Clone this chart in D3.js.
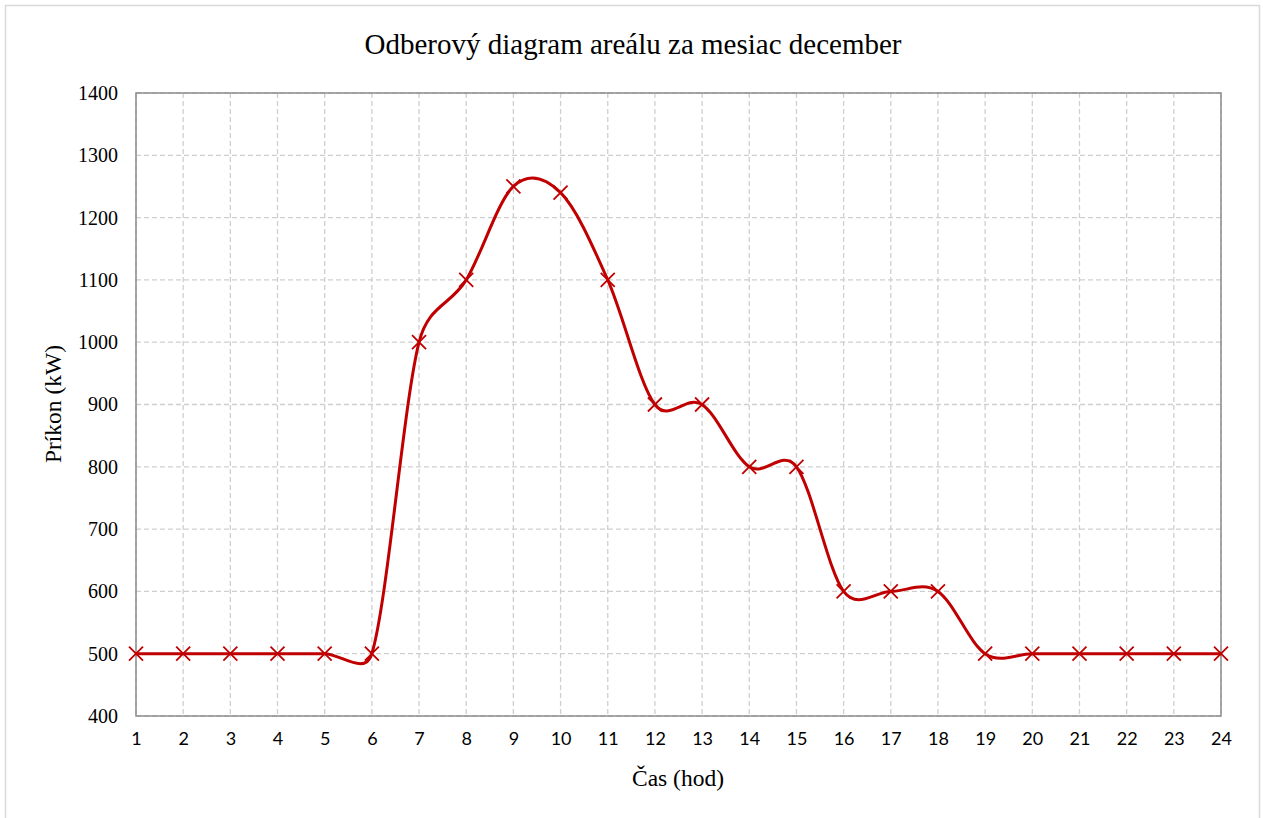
<!DOCTYPE html>
<html><head><meta charset="utf-8">
<script src="https://cdn.jsdelivr.net/npm/d3@7"></script>
<style>body{margin:0;background:#fff}</style>
</head><body>
<svg id="c" width="1263" height="818"></svg>
<script>
const hours = [1,2,3,4,5,6,7,8,9,10,11,12,13,14,15,16,17,18,19,20,21,22,23,24];
const power = [500,500,500,500,500,500,1000,1100,1250,1240,1100,900,900,800,800,600,600,600,500,500,500,500,500,500];
const yTicks = [400,500,600,700,800,900,1000,1100,1200,1300,1400];
const titleText = "Odberový diagram areálu za mesiac december";
const xTitle = "Čas (hod)";
const yTitle = "Príkon (kW)";

const svg = d3.select("#c");
svg.append("rect").attr("x",5.5).attr("y",5.5).attr("width",1254).attr("height",830)
  .attr("fill","#fff").attr("stroke","#d9d9d9").attr("stroke-width",1.5);

const L=136, R=1221, T=93, B=716;
const x = d3.scaleLinear().domain([1,24]).range([L,R]);
const y = d3.scaleLinear().domain([400,1400]).range([B,T]);

const grid = svg.append("g").attr("stroke","#cfcfcf").attr("stroke-width",1.3).attr("stroke-dasharray","5,3");
grid.selectAll(".gy").data(yTicks).join("line").attr("x1",L).attr("x2",R).attr("y1",d=>y(d)).attr("y2",d=>y(d));
grid.selectAll(".gx").data(hours).join("line").attr("y1",T).attr("y2",B).attr("x1",d=>x(d)).attr("x2",d=>x(d));

svg.append("rect").attr("x",L).attr("y",T).attr("width",R-L).attr("height",B-T)
  .attr("fill","none").attr("stroke","#8c8c8c").attr("stroke-width",1.5);

const yAxis = svg.append("g").attr("transform",`translate(${L},0)`)
  .call(d3.axisLeft(y).tickValues(yTicks).tickSize(0).tickPadding(18).tickFormat(d3.format("d")));
yAxis.select(".domain").remove();
yAxis.selectAll("text").attr("font-family","Liberation Serif, Times New Roman, serif").attr("font-size",20).attr("fill","#000");

const xAxis = svg.append("g").attr("transform",`translate(0,${B})`)
  .call(d3.axisBottom(x).tickValues(hours).tickSize(0).tickPadding(16).tickFormat(d3.format("d")));
xAxis.select(".domain").remove();
xAxis.selectAll("text").attr("font-family","Lato, Open Sans, sans-serif").attr("font-size",18).attr("fill","#000");

// Excel-style smoothed line: Bezier segments with control-point length limited to half the segment
const pts = power.map((d,i)=>[x(hours[i]), y(d)]);
const dist = (a,b)=>Math.hypot(a[0]-b[0],a[1]-b[1]);
const p = d3.path();
p.moveTo(pts[0][0],pts[0][1]);
for(let i=0;i<pts.length-1;i++){
  const p0=pts[Math.max(0,i-1)], p1=pts[i], p2=pts[i+1], p3=pts[Math.min(pts.length-1,i+2)];
  const d02=dist(p0,p2), d12=dist(p1,p2), d13=dist(p1,p3);
  let f0=1/6, f1=1/6;
  if(d02/6 >= d12/2 && d02>0) f0 = d12/d02/2;
  if(d13/6 >= d12/2 && d13>0) f1 = d12/d13/2;
  const c1=[p1[0]+(p2[0]-p0[0])*f0, p1[1]+(p2[1]-p0[1])*f0];
  const c2=[p2[0]-(p3[0]-p1[0])*f1, p2[1]-(p3[1]-p1[1])*f1];
  p.bezierCurveTo(c1[0],c1[1],c2[0],c2[1],p2[0],p2[1]);
}
svg.append("path").attr("d",p.toString()).attr("fill","none").attr("stroke","#C00000").attr("stroke-width",3);

const s=7;
svg.append("g").selectAll("path").data(power).join("path")
  .attr("d",(d,i)=>{const cx=x(hours[i]), cy=y(d);return `M${cx-s},${cy-s}L${cx+s},${cy+s}M${cx-s},${cy+s}L${cx+s},${cy-s}`;})
  .attr("stroke","#C00000").attr("stroke-width",1.8).attr("fill","none");

svg.append("text").attr("x",633).attr("y",54).attr("text-anchor","middle")
  .attr("font-family","Liberation Serif, Times New Roman, serif").attr("font-size",29).text(titleText);
svg.append("text").attr("x",678).attr("y",786).attr("text-anchor","middle")
  .attr("font-family","Liberation Serif, Times New Roman, serif").attr("font-size",23.5).text(xTitle);
svg.append("text").attr("transform","translate(61,404) rotate(-90)").attr("text-anchor","middle")
  .attr("font-family","Liberation Serif, Times New Roman, serif").attr("font-size",23.5).text(yTitle);
</script>
</body></html>
